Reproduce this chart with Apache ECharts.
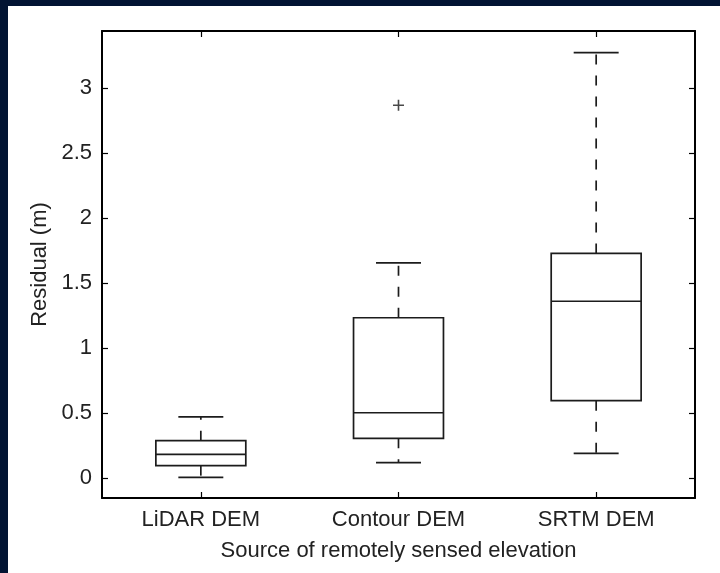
<!DOCTYPE html>
<html>
<head>
<meta charset="utf-8">
<script src="https://cdn.jsdelivr.net/npm/echarts@6/dist/echarts.min.js"></script>
<style>
  html, body { margin: 0; padding: 0; background: #021433; width: 720px; height: 573px; overflow: hidden; }
  #chart { position: absolute; left: 8px; top: 6px; width: 712px; height: 567px; background: #ffffff; }
</style>
</head>
<body>
<div id="chart"></div>
<script>
// Data
const categories = ['LiDAR DEM', 'Contour DEM', 'SRTM DEM'];
const lowerWhisker = [0.005, 0.118, 0.19];
const q1Values     = [0.095, 0.305, 0.595];
const medianValues = [0.182, 0.502, 1.36];
const q3Values     = [0.287, 1.233, 1.728];
const upperWhisker = [0.47, 1.656, 3.274];
const outliers = [[1, 2.869]];
const yTickValues = [0, 0.5, 1, 1.5, 2, 2.5, 3];

const boxData = categories.map((c, i) => [i, lowerWhisker[i], q1Values[i], medianValues[i], q3Values[i], upperWhisker[i]]);

const ink = '#1c1c1c';
const font = 'Liberation Sans, Arial, Helvetica, sans-serif';

function renderBox(params, api) {
  const idx = api.value(0);
  const bw = api.size([1, 0])[0] * 0.455;
  const capW = bw * 0.5;
  const pLow = api.coord([idx, api.value(1)]);
  const pQ1 = api.coord([idx, api.value(2)]);
  const pMed = api.coord([idx, api.value(3)]);
  const pQ3 = api.coord([idx, api.value(4)]);
  const pHigh = api.coord([idx, api.value(5)]);
  const cx = pMed[0];
  const solid = { stroke: ink, lineWidth: 1.7, fill: null };
  const dashed = { stroke: ink, lineWidth: 1.7, lineDash: [10, 11], fill: null };
  return {
    type: 'group',
    children: [
      { type: 'line', shape: { x1: cx, y1: pQ3[1], x2: cx, y2: pHigh[1] }, style: dashed },
      { type: 'line', shape: { x1: cx, y1: pQ1[1], x2: cx, y2: pLow[1] }, style: dashed },
      { type: 'line', shape: { x1: cx - capW / 2, y1: pHigh[1], x2: cx + capW / 2, y2: pHigh[1] }, style: solid },
      { type: 'line', shape: { x1: cx - capW / 2, y1: pLow[1], x2: cx + capW / 2, y2: pLow[1] }, style: solid },
      { type: 'rect', shape: { x: cx - bw / 2, y: pQ3[1], width: bw, height: pQ1[1] - pQ3[1] }, style: { stroke: ink, lineWidth: 1.7, fill: '#ffffff' } },
      { type: 'line', shape: { x1: cx - bw / 2, y1: pMed[1], x2: cx + bw / 2, y2: pMed[1] }, style: solid }
    ]
  };
}

const chart = echarts.init(document.getElementById('chart'), null, { renderer: 'canvas' });

const axisLineStyle = { color: '#000', width: 2 };
const tickStyle = { color: '#000', width: 1.2 };

const yCommon = {
  type: 'value',
  min: -0.154,
  max: 3.44,
  splitLine: { show: false },
  axisLine: { show: true, onZero: false, lineStyle: axisLineStyle },
  axisTick: { show: true, inside: true, length: 6, customValues: yTickValues, lineStyle: tickStyle }
};

chart.setOption({
  animation: false,
  grid: { left: 94, top: 25, right: 25, bottom: 75 },
  xAxis: [
    {
      type: 'category',
      data: categories,
      position: 'bottom',
      axisLine: { show: true, onZero: false, lineStyle: axisLineStyle },
      axisTick: { show: true, inside: true, alignWithLabel: true, length: 6, lineStyle: tickStyle },
      axisLabel: { color: '#222', fontSize: 22, fontFamily: font, margin: 11 },
      name: 'Source of remotely sensed elevation',
      nameLocation: 'middle',
      nameGap: 42,
      nameTextStyle: { color: '#222', fontSize: 22, fontFamily: font }
    },
    {
      type: 'category',
      data: categories,
      position: 'top',
      axisLine: { show: true, onZero: false, lineStyle: axisLineStyle },
      axisTick: { show: true, inside: true, alignWithLabel: true, length: 6, lineStyle: tickStyle },
      axisLabel: { show: false }
    }
  ],
  yAxis: [
    Object.assign({}, yCommon, {
      position: 'left',
      axisLabel: { show: true, customValues: yTickValues, color: '#222', fontSize: 22, fontFamily: font, margin: 10 },
      name: 'Residual (m)',
      nameLocation: 'middle',
      nameGap: 46,
      nameRotate: 90,
      nameTextStyle: { color: '#222', fontSize: 22, fontFamily: font }
    }),
    Object.assign({}, yCommon, {
      position: 'right',
      axisLabel: { show: false }
    })
  ],
  series: [
    {
      type: 'custom',
      xAxisIndex: 0,
      yAxisIndex: 0,
      data: boxData,
      renderItem: renderBox,
      encode: { x: 0, y: [1, 2, 3, 4, 5] },
      clip: false
    },
    {
      type: 'scatter',
      xAxisIndex: 0,
      yAxisIndex: 0,
      data: outliers,
      symbol: 'path://M0,5 L10,5 M5,0 L5,10',
      symbolSize: 11,
      itemStyle: { color: 'none', borderColor: ink, borderWidth: 1.6 }
    }
  ]
});
</script>
</body>
</html>
